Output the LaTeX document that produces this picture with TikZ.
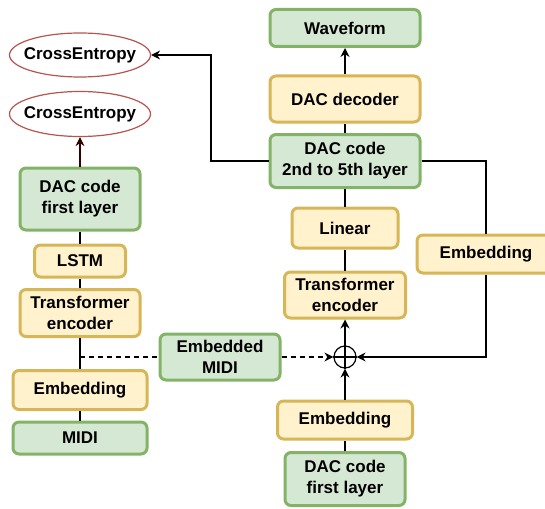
\documentclass[tikz,border=0pt]{standalone}
\usepackage{fontspec}
\setmainfont{Liberation Sans}
\usetikzlibrary{arrows.meta,shapes.geometric,calc}
\definecolor{gfill}{HTML}{D5E8D4}
\definecolor{gline}{HTML}{82B366}
\definecolor{yfill}{HTML}{FFF2CC}
\definecolor{yline}{HTML}{D6B656}
\definecolor{rline}{HTML}{B85450}
\definecolor{darkred}{HTML}{330000}
\begin{document}
\begin{tikzpicture}[x=1pt,y=-1pt,
  base/.style={rounded corners=6pt,line width=3pt,inner sep=0pt,align=center,
    font=\fontsize{17}{21}\selectfont\bfseries},
  gbox/.style={base,draw=gline,fill=gfill},
  ybox/.style={base,draw=yline,fill=yfill},
  ce/.style={ellipse,draw=rline,fill=white,line width=1.2pt,inner sep=0pt,
    font=\fontsize{17}{21}\selectfont\bfseries},
  conn/.style={line width=1.2pt},
  arr/.style={conn,-{Stealth[length=9pt,width=9pt,inset=3pt]}},
]
\useasboundingbox (0,0) rectangle (545,508);
% right column
\node[gbox,minimum width=150pt,minimum height=37pt] (wave) at (345,28) {Waveform};
\node[ybox,minimum width=150pt,minimum height=46pt] (dec) at (345,99) {DAC decoder};
\node[gbox,minimum width=150pt,minimum height=53pt] (dac2) at (345,161) {DAC code\\2nd to 5th layer};
\node[ybox,minimum width=106pt,minimum height=40pt] (lin) at (345,228) {Linear};
\node[ybox,minimum width=138pt,minimum height=38pt] (embR) at (486,254) {Embedding};
\node[ybox,minimum width=121pt,minimum height=46pt] (trR) at (345,295) {Transformer\\encoder};
\node[circle,draw,line width=1.2pt,minimum size=22pt,inner sep=0pt] (plus) at (345,357) {};
\draw[conn] (plus.north) -- (plus.south) (plus.west) -- (plus.east);
\node[ybox,minimum width=135pt,minimum height=38pt] (embB) at (345,420) {Embedding};
\node[gbox,minimum width=120pt,minimum height=53pt] (dacB) at (345,479) {DAC code\\first layer};
\node[gbox,minimum width=120pt,minimum height=46pt] (emid) at (220,357) {Embedded\\MIDI};
% left column
\node[ce,minimum width=141pt,minimum height=44pt] (ce1) at (80,55) {\makebox[0pt]{CrossEntropy}};
\node[ce,minimum width=141pt,minimum height=45pt] (ce2) at (80,114) {\makebox[0pt]{CrossEntropy}};
\node[gbox,minimum width=120pt,minimum height=62pt] (dacL) at (80,199) {DAC code\\first layer};
\node[ybox,minimum width=91pt,minimum height=32pt] (lstm) at (80,261) {LSTM};
\node[ybox,minimum width=120pt,minimum height=47pt] (trL) at (80,313) {Transformer\\encoder};
\node[ybox,minimum width=134pt,minimum height=39pt] (embL) at (80,390) {Embedding};
\node[gbox,minimum width=134pt,minimum height=32pt] (midi) at (80,438) {MIDI};
\coordinate (j) at (trL.south |- emid.west);
\coordinate (k) at (211,161);
% connectors
\draw[arr,draw=darkred] (dacL.north) -- (ce2.south);
\draw[conn] (dacL) -- (lstm);
\draw[conn] (lstm) -- (trL);
\draw[conn] (trL) -- (embL);
\draw[conn] (embL) -- (midi);
\draw[conn,dashed,dash pattern=on 5pt off 4pt] (j) -- (emid.west);
\draw[arr,dashed,dash pattern=on 5pt off 4pt] (emid.east) -- (plus.west);
\draw[conn] (dacB) -- (embB);
\draw[arr] (embB.north) -- (plus.south);
\draw[arr] (plus.north) -- (trR.south);
\draw[conn] (trR) -- (lin);
\draw[conn] (lin) -- (dac2);
\draw[conn] (dac2) -- (dec);
\draw[arr] (dec.north) -- (wave.south);
\draw[arr] (dac2.west) -- (k) |- (ce1.east);
\draw[conn] (dac2.east) -| (embR.north);
\draw[arr] (embR.south) |- (plus.east);
\end{tikzpicture}
\end{document}
